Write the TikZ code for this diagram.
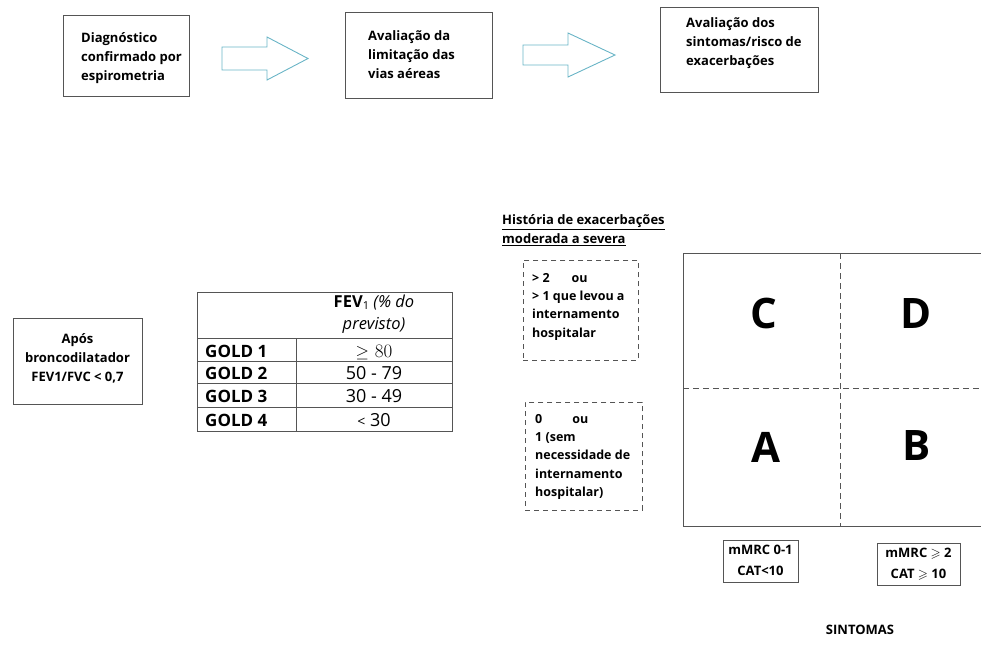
\documentclass[tikz,border=0pt]{standalone}
\usepackage{fontspec}
\usepackage{amssymb}
\usetikzlibrary{positioning}
\newfontfamily\tahoma{Open Sans}
\definecolor{linegray}{RGB}{85,85,85}
\definecolor{arrowblue}{RGB}{105,180,198}

\begin{document}
\begin{tikzpicture}
  [x=1pt, y=-1pt,
   box/.style={draw=linegray, line width=0.9pt, inner sep=0pt},
   dbox/.style={draw=linegray, line width=0.8pt, dash pattern=on 5pt off 4pt, inner sep=0pt},
   txt/.style={font=\tahoma\bfseries\fontsize{13}{19}\selectfont, align=left, inner sep=0pt},
   small/.style={font=\tahoma\bfseries\fontsize{13}{21}\selectfont, align=center, inner sep=0pt},
   quad/.style={font=\tahoma\bfseries\fontsize{42}{42}\selectfont, inner sep=0pt},
   gold/.style={font=\tahoma\bfseries\fontsize{17}{17}\selectfont, anchor=base west, inner sep=0pt},
   val/.style={font=\tahoma\fontsize{18}{18}\selectfont, anchor=base, inner sep=0pt},
   blockarrow/.style={draw=arrowblue, line width=0.9pt}]

  \useasboundingbox (0,0) rectangle (981,646);

  % top row
  \node[box, anchor=north west, minimum width=126, minimum height=81] (diag) at (63,15) {};
  \node[txt, anchor=north west] (diagtxt) at (81,32) {Diagnóstico\\confirmado por\\espirometria};
  \node[box, anchor=north west, minimum width=147, minimum height=86] (lim) at (345,12) {};
  \node[txt, anchor=north west] (limtxt) at (368,30) {Avaliação da\\limitação das\\vias aéreas};
  \node[box, anchor=north west, minimum width=158, minimum height=85] (risk) at (660,7) {};
  \node[txt, anchor=north west] (risktxt) at (686,17) {Avaliação dos\\sintomas/risco de\\exacerbações};

  \draw[blockarrow] (222,47) -- (267,47) -- (267,37) -- (308,58.5) -- (267,80)
    -- (267,70) -- (222,70) -- cycle;
  \draw[blockarrow] (523,45) -- (568,45) -- (568,33) -- (615,55) -- (568,77)
    -- (568,65) -- (523,65) -- cycle;

  % espirometria
  \node[box, anchor=north west, minimum width=129, minimum height=86] (apos) at (13,318) {};
  \node[txt, align=center, anchor=north] (apostxt) at (77.5,333) {Após\\broncodilatador\\FEV1/FVC < 0,7};

  % tabela GOLD
  \node[box, anchor=north west, minimum width=255, minimum height=139] (tab) at (197,292) {};
  \draw[linegray, line width=0.9pt] (296,338) -- (296,431);
  \draw[linegray, line width=0.9pt] (197,338) -- (452,338);
  \draw[linegray, line width=0.9pt] (197,361) -- (452,361);
  \draw[linegray, line width=0.9pt] (197,383) -- (452,383);
  \draw[linegray, line width=0.9pt] (197,407) -- (452,407);
  \node[font=\tahoma\fontsize{16.5}{22}\selectfont, align=center, inner sep=0pt, anchor=north]
    (fev) at (374,295) {\textbf{FEV}{\fontsize{11}{11}\selectfont\raisebox{-2pt}{1}} \textit{(\% do}\\\textit{previsto)}};
  \node[gold] (g1) at (205,357) {GOLD 1};
  \node[gold] (g2) at (205,379) {GOLD 2};
  \node[gold] (g3) at (205,402) {GOLD 3};
  \node[gold] (g4) at (205,426) {GOLD 4};
  \node[val, font=\fontsize{19}{19}\selectfont] (v1) at (374,357) {$\geq$ 80};
  \node[val] (v2) at (374,379) {50 - 79};
  \node[val] (v3) at (374,402) {30 - 49};
  \node[val] (v4) at (374,426) {{\fontsize{14}{14}\selectfont <} 30};

  % exacerbacoes
  \node[txt, anchor=north west] (hist) at (502,214) {\underline{História de exacerbações}\\\underline{moderada a severa}};
  \node[dbox, anchor=north west, minimum width=115, minimum height=100] (hi) at (523,260) {};
  \node[txt, anchor=north west, font=\tahoma\bfseries\fontsize{12.5}{18.3}\selectfont] (hitxt) at (532,273)
    {> 2\hspace{22pt}ou\\> 1 que levou a\\internamento\\hospitalar};
  \node[dbox, anchor=north west, minimum width=117, minimum height=108] (lo) at (525,402) {};
  \node[txt, anchor=north west, font=\tahoma\bfseries\fontsize{12.5}{18.3}\selectfont] (lotxt) at (535,414)
    {0\hspace{30pt}ou\\1 (sem\\necessidade de\\internamento\\hospitalar)};

  % grelha ABCD
  \coordinate (tl) at (683,253);
  \coordinate (tr) at (981,253);
  \coordinate (bl) at (683,526);
  \coordinate (br) at (981,526);
  \draw[linegray, line width=0.9pt] (tr) -- (tl) -- (bl) -- (br);
  \draw[linegray, line width=0.8pt, dash pattern=on 6pt off 4pt] (840,253) -- (840,526);
  \draw[linegray, line width=0.8pt, dash pattern=on 6pt off 4pt] (683,388) -- (981,388);
  \node[quad] (C) at (763.5,313) {C};
  \node[quad] (D) at (916.5,313) {D};
  \node[quad] (A) at (765.5,447) {A};
  \node[quad] (B) at (916.5,445) {B};

  % sintomas
  \node[box, anchor=north west, minimum width=75, minimum height=42] (mlow) at (723,540) {};
  \node[small, anchor=north] (mlowtxt) at (760.5,545) {mMRC 0-1\\CAT<10};
  \node[box, anchor=north west, minimum width=83, minimum height=42] (mhigh) at (877,543) {};
  \node[small, anchor=north] (mhightxt) at (918.5,548) {mMRC $\geqslant$ 2\\CAT $\geqslant$ 10};
  \node[font=\tahoma\bfseries\fontsize{13}{13}\selectfont, inner sep=0pt] (sint) at (860,630) {SINTOMAS};
\end{tikzpicture}
\end{document}
